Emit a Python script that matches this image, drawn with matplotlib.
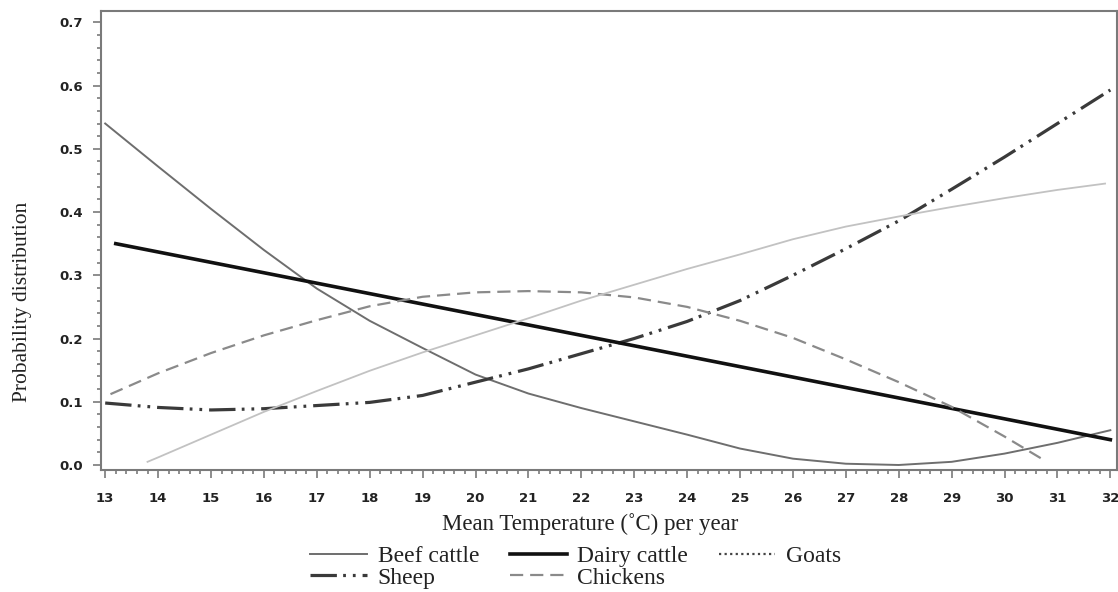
import matplotlib
matplotlib.use("Agg")
import matplotlib.pyplot as plt
from matplotlib.lines import Line2D
from matplotlib.ticker import MultipleLocator, FormatStrFormatter

# values
temps = list(range(13, 33))
beef = [0.540, 0.472, 0.405, 0.340, 0.279, 0.228, 0.185, 0.143, 0.113, 0.090,
        0.069, 0.048, 0.026, 0.010, 0.002, 0.000, 0.005, 0.018, 0.035, 0.055]
sheep = [0.098, 0.091, 0.087, 0.089, 0.094, 0.099, 0.110, 0.131, 0.152, 0.176,
         0.200, 0.227, 0.260, 0.300, 0.342, 0.386, 0.436, 0.487, 0.540, 0.593]

dairy_x = [13.2, 16, 20, 24, 28, 32]
dairy = [0.350, 0.304, 0.238, 0.172, 0.106, 0.040]

goats_x = [13.8] + list(range(14, 32)) + [31.9]
goats = [0.005, 0.012, 0.048, 0.084, 0.117, 0.149, 0.178, 0.205, 0.232, 0.260,
         0.285, 0.310, 0.333, 0.357, 0.377, 0.393, 0.408, 0.422, 0.435, 0.445]

chickens_x = [13.1] + list(range(14, 31)) + [30.7]
chickens = [0.112, 0.145, 0.177, 0.205, 0.229, 0.251, 0.266, 0.273, 0.275, 0.273,
            0.265, 0.250, 0.228, 0.201, 0.167, 0.131, 0.092, 0.045, 0.010]

plt.rcParams['lines.scale_dashes'] = False
serif = 'Liberation Serif'

fig = plt.figure(figsize=(11.18, 5.92), dpi=100)
ax = fig.add_axes([0.0903, 0.206, 0.909, 0.7755])

l_beef, = ax.plot(temps, beef, color='#6e6e6e', lw=1.4, label='Beef cattle')
l_sheep, = ax.plot(temps, sheep, color='#3a3a3a', lw=2.3,
                   linestyle=(0, (19, 4.5, 2, 5, 2, 5)), label='Sheep')
l_dairy, = ax.plot(dairy_x, dairy, color='#111111', lw=2.6, label='Dairy cattle')
l_chick, = ax.plot(chickens_x, chickens, color='#8a8a8a', lw=1.6,
                   linestyle=(0, (9.5, 5)), label='Chickens')
ax.plot(goats_x, goats, color='#c2c2c2', lw=1.3)
goat_handle = Line2D([], [], color='#444444', lw=1.6, linestyle=(0, (1.6, 2.4)))

ax.set_xlim(12.92, 32.13)
ax.set_ylim(-0.008, 0.718)
ax.xaxis.set_major_locator(MultipleLocator(1))
ax.xaxis.set_minor_locator(MultipleLocator(0.2))
ax.yaxis.set_major_locator(MultipleLocator(0.1))
ax.yaxis.set_minor_locator(MultipleLocator(0.02))
ax.yaxis.set_major_formatter(FormatStrFormatter('%.1f'))

for s in ax.spines.values():
    s.set_color('#7a7a7a')
    s.set_linewidth(1.5)
ax.tick_params(which='both', direction='out', color='#7a7a7a', width=1.2)
ax.tick_params(which='major', length=6, labelsize=9.5)
ax.tick_params(which='minor', length=3)
ax.tick_params(axis='x', pad=10)
ax.tick_params(axis='y', pad=7)
for lab in ax.get_xticklabels() + ax.get_yticklabels():
    lab.set_fontweight('bold')
    lab.set_color('#222222')

ax.set_xlabel("Mean Temperature (˚C) per year", family=serif, fontsize=16.5, color='#222222')
ax.xaxis.set_label_coords(0.481, -0.093)
ax.set_ylabel("Probability distribution", family=serif, fontsize=15.5, color='#222222')
ax.yaxis.set_label_coords(-0.068, 0.366)

fig.legend([l_beef, l_sheep, l_dairy, l_chick, goat_handle],
           ['Beef cattle', 'Sheep', 'Dairy cattle', 'Chickens', 'Goats'],
           ncol=3, loc='lower center', bbox_to_anchor=(0.515, -0.03),
           frameon=False, prop={'family': serif, 'size': 17},
           handlelength=2.4, handletextpad=0.45, columnspacing=1.3,
           labelspacing=-0.02, labelcolor='#222222')

fig.savefig('out.png', dpi=100)
